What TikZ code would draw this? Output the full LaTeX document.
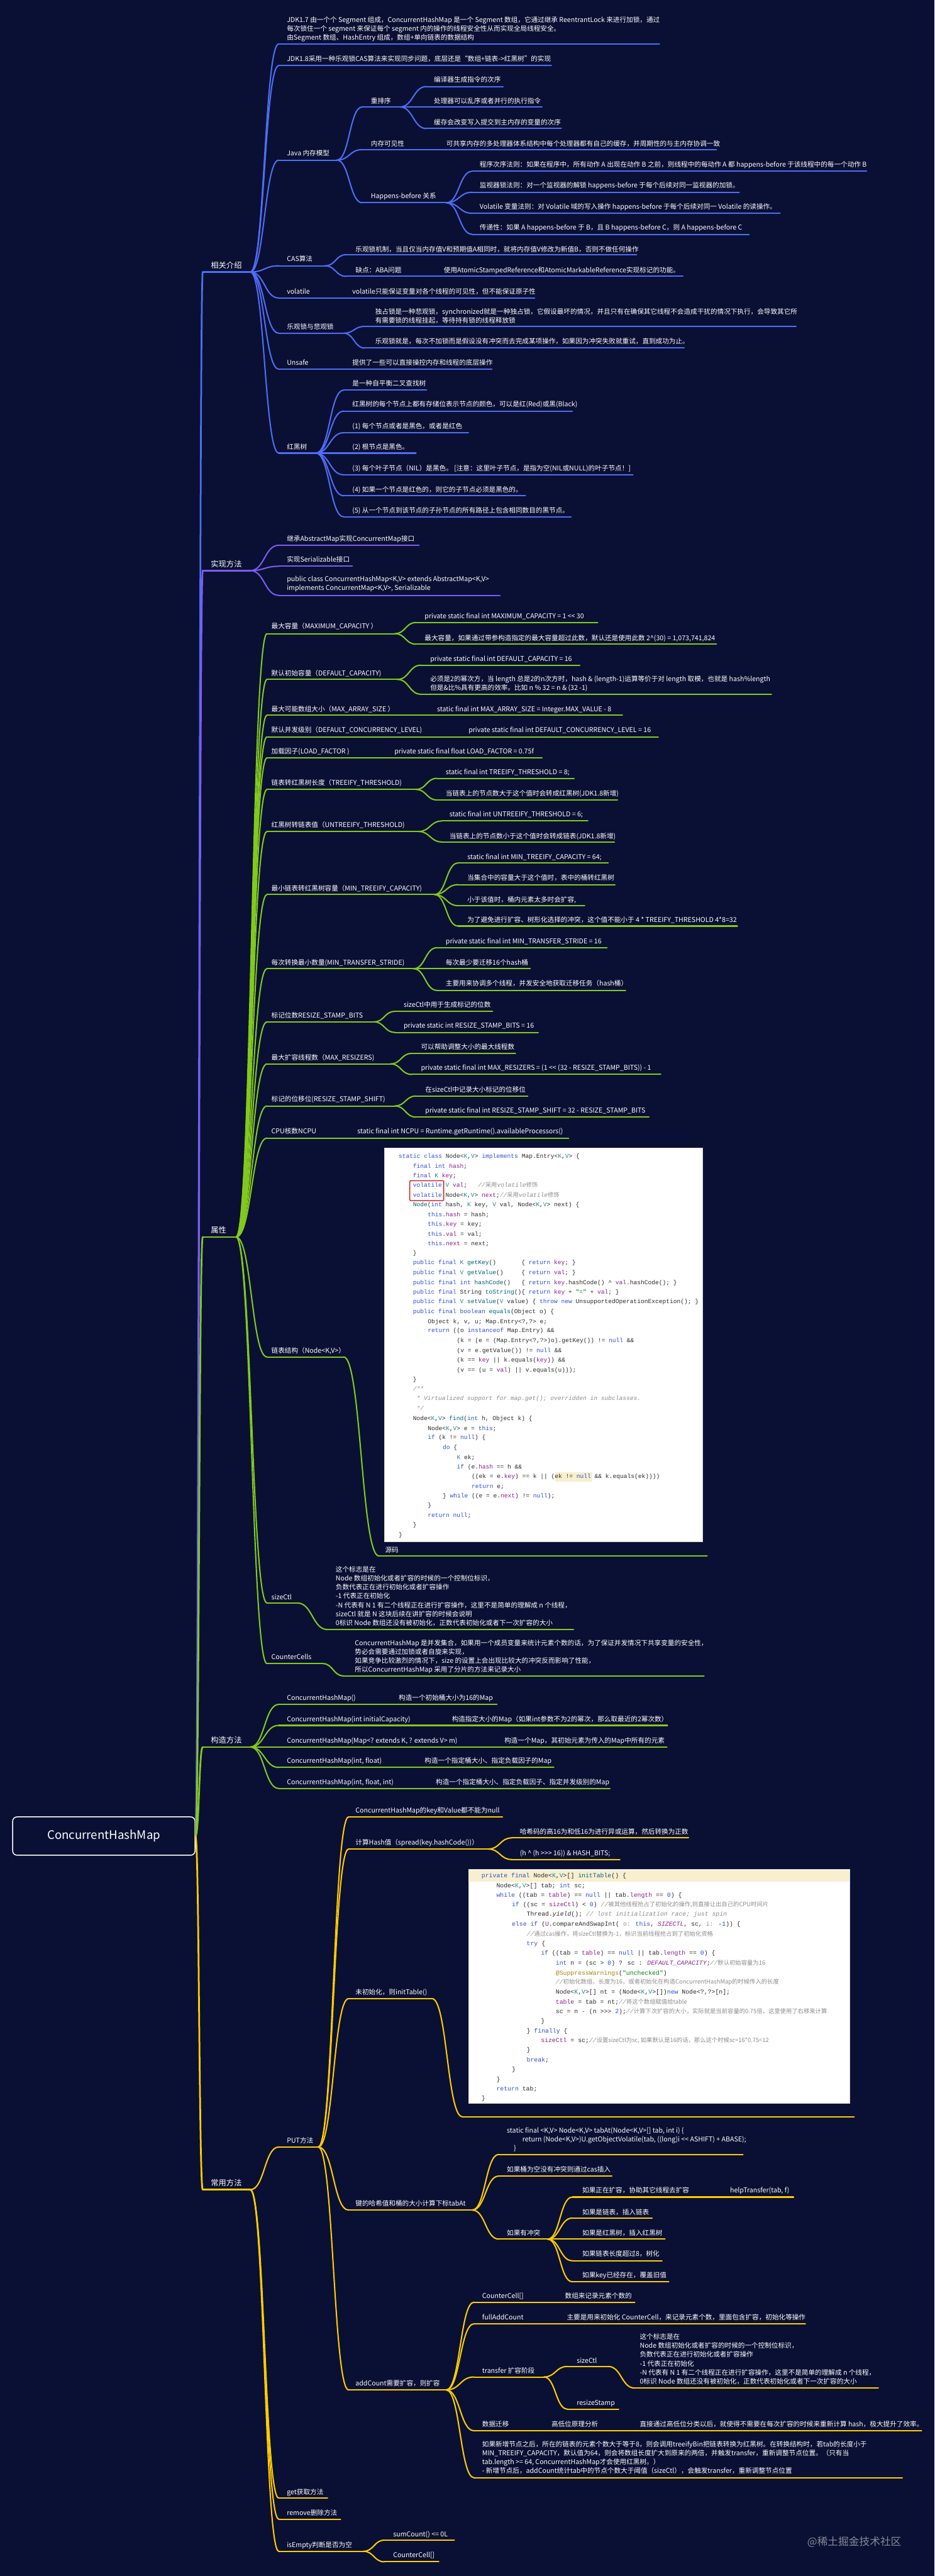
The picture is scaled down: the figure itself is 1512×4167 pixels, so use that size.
\documentclass[tikz,border=0pt]{standalone}
\usepackage{fontspec}
\newfontfamily\zhfont{Noto Sans CJK SC}
\newfontfamily\codefont{Liberation Mono}
\usetikzlibrary{calc}
\definecolor{bg}{HTML}{0A1033}
\definecolor{cb}{HTML}{4F6DF5}
\definecolor{cp}{HTML}{7C5CF2}
\definecolor{cg}{HTML}{82C91E}
\definecolor{cy}{HTML}{FFCC00}
\definecolor{ckw}{HTML}{2F4FD0}
\definecolor{cfd}{HTML}{8A1E8E}
\definecolor{cty}{HTML}{1A8C8C}
\definecolor{ccm}{HTML}{8C8C8C}
\definecolor{cfn}{HTML}{00627A}
\definecolor{cnum}{HTML}{1750EB}
\definecolor{cstr}{HTML}{067D17}
\definecolor{cann}{HTML}{9E880D}
\definecolor{cpl}{HTML}{2B2B2B}
\definecolor{hly}{HTML}{F7EFCF}
\definecolor{wmc}{HTML}{858A9A}
\newcommand\fsz{\zhfont\fontsize{10.8pt}{14.4pt}\selectfont}
\newcommand\fmz{\zhfont\fontsize{12.5pt}{15pt}\selectfont}
\newcommand\fcn{\codefont\fontsize{9.75pt}{12pt}\selectfont}
\newcommand\fci{\codefont\fontsize{10pt}{12pt}\selectfont}
\newcommand\zhf{\zhfont\fontsize{9.5pt}{12pt}\selectfont}
\newcommand\kwd[1]{\textcolor{ckw}{#1}}
\newcommand\fld[1]{\textcolor{cfd}{#1}}
\newcommand\typ[1]{\textcolor{cty}{#1}}
\newcommand\cmt[1]{\textcolor{ccm}{\itshape #1}}
\newcommand\zcm[1]{\textcolor{ccm}{\zhf #1}}
\newcommand\fnn[1]{\textcolor{cfn}{#1}}
\newcommand\nmb[1]{\textcolor{cnum}{#1}}
\newcommand\strg[1]{\textcolor{cstr}{#1}}
\newcommand\annt[1]{\textcolor{cann}{#1}}
\newcommand\hnt[1]{\textcolor{ccm}{#1}}
\tikzset{
  L/.style={draw=#1, line width=2.1pt, line cap=round},
  M/.style={draw=#1, line width=2.8pt, line cap=round},
  xmc/.style={to path={let \p1=(\tikztostart), \p2=(\tikztotarget) in
     .. controls ({0.5*\x1+0.5*\x2},\y1) and ({0.5*\x1+0.5*\x2},\y2) .. (\tikztotarget)}},
  tx/.style={anchor=west, inner sep=0pt, text=white, font=\fsz, text height=9.5pt, text depth=1.3pt},
  tm/.style={anchor=west, inner sep=0pt, text=white, font=\fsz, align=left},
  tb/.style={anchor=west, inner sep=0pt, text=white, font=\fmz, text height=11pt, text depth=1.5pt},
  cd/.style={anchor=west, inner sep=0pt, text=cpl, font=\fcn, text height=7pt, text depth=2pt},
  ci/.style={anchor=west, inner sep=0pt, text=cpl, font=\fci, text height=7pt, text depth=2pt},
  img/.style={draw=black!15, fill=white, anchor=north west, inner sep=0pt}
}
% topic: [node style]{name}{line style}{xs}{xe}{yline}{xtext}{ytext}{text}
\newcommand\tpc[9][tx]{\coordinate (#2-s) at (#4,#6);\coordinate (#2-e) at (#5,#6);\draw[#3] (#2-s) -- (#2-e);\node[#1] (#2) at (#7,#8) {#9};}
\newcommand\cnx[3]{\foreach \qq in {#3}{\draw[#1] (#2-e) to[xmc] (\qq-s);}}
\begin{document}
\begin{tikzpicture}[x=1pt,y=-1pt]
\fill[bg] (0,0) rectangle (1512,4167);
\path[use as bounding box] (0,0) rectangle (1512,4167);

% root
\node[draw=white, line width=1.5pt, rounded corners=7pt, fill=bg, minimum width=295pt, minimum height=62pt, inner sep=0pt, text=white, font=\zhfont\fontsize{19pt}{22pt}\selectfont] (root) at (168,2970) {ConcurrentHashMap};

% main branches
\tpc[tb]{m1}{M=cb}{328}{405}{440}{341}{429}{相关介绍}
\tpc[tb]{m2}{M=cp}{328}{405}{923}{341}{912}{实现方法}
\tpc[tb]{m3}{M=cg}{328}{382}{2001}{341}{1990}{属性}
\tpc[tb]{m4}{M=cg}{328}{405}{2826}{341}{2815}{构造方法}
\tpc[tb]{m5}{M=cy}{328}{405}{3542}{341}{3531}{常用方法}
\draw[M=cb] (root.east) to[xmc] (m1-s);
\draw[M=cp] (root.east) to[xmc] (m2-s);
\draw[M=cg] (root.east) to[xmc] (m3-s);
\draw[M=cg] (root.east) to[xmc] (m4-s);
\draw[M=cy] (root.east) to[xmc] (m5-s);

% ===== 相关介绍 =====
\tpc[tm]{a1}{L=cb}{451}{1067}{71}{464}{47}{JDK1.7 由一个个 Segment 组成，ConcurrentHashMap 是一个 Segment 数组，它通过继承 ReentrantLock 来进行加锁，通过\\每次锁住一个 segment 来保证每个 segment 内的操作的线程安全性从而实现全局线程安全。\\由Segment 数组、HashEntry 组成，数组+单向链表的数据结构}
\tpc{a2}{L=cb}{451}{892}{106}{464}{95}{JDK1.8采用一种乐观锁CAS算法来实现同步问题，底层还是“数组+链表->红黑树”的实现}
\tpc{a3}{L=cb}{451}{545}{259}{464}{248}{Java 内存模型}
\tpc{a31}{L=cb}{586}{647}{173}{600}{163}{重排序}
\tpc{a311}{L=cb}{690}{814}{140}{702}{129}{编译器生成指令的次序}
\tpc{a312}{L=cb}{690}{877}{173}{702}{163}{处理器可以乱序或者并行的执行指令}
\tpc{a313}{L=cb}{690}{908}{208}{702}{198}{缓存会改变写入提交到主内存的变量的次序}
\tpc{a32}{L=cb}{586}{1159}{242}{600}{232}{内存可见性}
\node[tx] (a32c) at (722,232) {可共享内存的多处理器体系结构中每个处理器都有自己的缓存，并周期性的与主内存协调一致};
\tpc{a33}{L=cb}{586}{722}{328}{600}{317}{Happens-before 关系}
\tpc{a331}{L=cb}{764}{1402}{277}{776}{266}{程序次序法则：如果在程序中，所有动作 A 出现在动作 B 之前，则线程中的每动作 A 都 happens-before 于该线程中的每一个动作 B}
\tpc{a332}{L=cb}{764}{1196}{311}{776}{300}{监视器锁法则：对一个监视器的解锁 happens-before 于每个后续对同一监视器的加锁。}
\tpc{a333}{L=cb}{764}{1262}{345}{776}{334}{Volatile 变量法则：对 Volatile 域的写入操作 happens-before 于每个后续对同一 Volatile 的读操作。}
\tpc{a334}{L=cb}{764}{1212}{379}{776}{368}{传递性：如果 A happens-before 于 B，且 B happens-before C，则 A happens-before C}
\tpc{a4}{L=cb}{451}{526}{430}{464}{419}{CAS算法}
\tpc{a41}{L=cb}{560}{1030}{412}{575}{403}{乐观锁机制，当且仅当内存值V和预期值A相同时，就将内存值V修改为新值B，否则不做任何操作}
\tpc{a42}{L=cb}{560}{1105}{447}{575}{437}{缺点：ABA问题}
\node[tx] (a42c) at (718,437) {使用AtomicStampedReference和AtomicMarkableReference实现标记的功能。};
\tpc{a5}{L=cb}{451}{865}{482}{464}{471}{volatile}
\node[tx] (a5c) at (570,471) {volatile只能保证变量对各个线程的可见性，但不能保证原子性};
\tpc{a6}{L=cb}{451}{556}{539}{464}{528}{乐观锁与悲观锁}
\tpc[tm]{a61}{L=cb}{590}{1288}{528}{607}{511}{独占锁是一种悲观锁，synchronized就是一种独占锁，它假设最坏的情况，并且只有在确保其它线程不会造成干扰的情况下执行，会导致其它所\\有需要锁的线程挂起，等待持有锁的线程释放锁}
\tpc{a62}{L=cb}{590}{1107}{563}{607}{552}{乐观锁就是，每次不加锁而是假设没有冲突而去完成某项操作，如果因为冲突失败就重试，直到成功为止。}
\tpc{a7}{L=cb}{451}{796}{597}{464}{586}{Unsafe}
\node[tx] (a7c) at (570,586) {提供了一些可以直接操控内存和线程的底层操作};
\tpc{a8}{L=cb}{451}{511}{733}{464}{723}{红黑树}
\tpc{a81}{L=cb}{556}{690}{631}{570}{620}{是一种自平衡二叉查找树}
\tpc{a82}{L=cb}{556}{926}{665}{570}{654}{红黑树的每个节点上都有存储位表示节点的颜色，可以是红(Red)或黑(Black)}
\tpc{a83}{L=cb}{556}{758}{700}{570}{689}{(1) 每个节点或者是黑色，或者是红色}
\tpc{a84}{L=cb}{556}{673}{733}{570}{723}{(2) 根节点是黑色。}
\tpc{a85}{L=cb}{556}{1024}{768}{570}{757}{(3) 每个叶子节点（NIL）是黑色。 [注意：这里叶子节点，是指为空(NIL或NULL)的叶子节点！]}
\tpc{a86}{L=cb}{556}{850}{802}{570}{792}{(4) 如果一个节点是红色的，则它的子节点必须是黑色的。}
\tpc{a87}{L=cb}{556}{924}{836}{570}{826}{(5) 从一个节点到该节点的子孙节点的所有路径上包含相同数目的黑节点。}
\cnx{L=cb}{m1}{a1,a2,a3,a4,a5,a6,a7,a8}
\cnx{L=cb}{a3}{a31,a32,a33}
\cnx{L=cb}{a31}{a311,a312,a313}
\cnx{L=cb}{a33}{a331,a332,a333,a334}
\cnx{L=cb}{a4}{a41,a42}
\cnx{L=cb}{a6}{a61,a62}
\cnx{L=cb}{a8}{a81,a82,a83,a84,a85,a86,a87}

% ===== 实现方法 =====
\tpc{b1}{L=cp}{451}{678}{882}{464}{871}{继承AbstractMap实现ConcurrentMap接口}
\tpc{b2}{L=cp}{451}{570}{916}{464}{905}{实现Serializable接口}
\tpc[tm]{b3}{L=cp}{451}{809}{963}{464}{945}{public class ConcurrentHashMap<K,V> extends AbstractMap<K,V>\\implements ConcurrentMap<K,V>, Serializable}
\cnx{L=cp}{m2}{b1,b2,b3}

% ===== 属性 =====
\tpc{c1}{L=cg}{432}{639}{1025}{439}{1013}{最大容量（MAXIMUM\_CAPACITY ）}
\tpc{c11}{L=cg}{673}{967}{1007}{687}{996}{private static final int MAXIMUM\_CAPACITY = 1 << 30}
\tpc{c12}{L=cg}{673}{1159}{1042}{687}{1032}{最大容量，如果通过带参构造指定的最大容量超过此数，默认还是使用此数 2\textasciicircum(30) = 1,073,741,824}
\tpc{c2}{L=cg}{432}{643}{1099}{439}{1089}{默认初始容量（DEFAULT\_CAPACITY)}
\tpc{c21}{L=cg}{681}{938}{1076}{696}{1066}{private static final int DEFAULT\_CAPACITY = 16}
\tpc[tm]{c22}{L=cg}{681}{1248}{1123}{696}{1106}{必须是2的幂次方，当 length 总是2的n次方时，hash \& (length-1)运算等价于对 length 取模，也就是 hash\%length\\但是\&比\%具有更高的效率。比如 n \% 32 = n \& (32 -1)}
\tpc{c3}{L=cg}{432}{1007}{1157}{439}{1147}{最大可能数组大小（MAX\_ARRAY\_SIZE ）}
\node[tx] (c3c) at (707,1147) {static final int MAX\_ARRAY\_SIZE = Integer.MAX\_VALUE - 8};
\tpc{c4}{L=cg}{432}{1065}{1192}{439}{1181}{默认并发级别（DEFAULT\_CONCURRENCY\_LEVEL)}
\node[tx] (c4c) at (758,1181) {private static final int DEFAULT\_CONCURRENCY\_LEVEL = 16};
\tpc{c5}{L=cg}{432}{877}{1226}{439}{1215}{加载因子(LOAD\_FACTOR )}
\node[tx] (c5c) at (638,1215) {private static final float LOAD\_FACTOR = 0.75f};
\tpc{c6}{L=cg}{432}{673}{1277}{439}{1266}{链表转红黑树长度（TREEIFY\_THRESHOLD)}
\tpc{c61}{L=cg}{707}{929}{1259}{721}{1249}{static final int TREEIFY\_THRESHOLD = 8;}
\tpc{c62}{L=cg}{707}{999}{1294}{721}{1283}{当链表上的节点数大于这个值时会转成红黑树(JDK1.8新增)}
\tpc{c7}{L=cg}{432}{677}{1345}{439}{1334}{红黑树转链表值（UNTREEIFY\_THRESHOLD)}
\tpc{c71}{L=cg}{715}{951}{1328}{727}{1317}{static final int UNTREEIFY\_THRESHOLD = 6;}
\tpc{c72}{L=cg}{715}{994}{1362}{727}{1352}{当链表上的节点数小于这个值时会转成链表(JDK1.8新增)}
\tpc{c8}{L=cg}{432}{703}{1447}{439}{1437}{最小链表转红黑树容量（MIN\_TREEIFY\_CAPACITY)}
\tpc{c81}{L=cg}{741}{984}{1396}{756}{1386}{static final int MIN\_TREEIFY\_CAPACITY = 64;}
\tpc{c82}{L=cg}{741}{995}{1431}{756}{1420}{当集合中的容量大于这个值时，表中的桶转红黑树}
\tpc{c83}{L=cg}{741}{946}{1465}{756}{1455}{小于该值时，桶内元素太多时会扩容,}
\tpc{c84}{L=cg}{741}{1193}{1498}{756}{1488}{为了避免进行扩容、树形化选择的冲突，这个值不能小于 4 * TREEIFY\_THRESHOLD 4*8=32}
\tpc{c9}{L=cg}{432}{669}{1567}{439}{1557}{每次转换最小数量(MIN\_TRANSFER\_STRIDE)}
\tpc{c91}{L=cg}{707}{982}{1533}{721}{1522}{private static final int MIN\_TRANSFER\_STRIDE = 16}
\tpc{c92}{L=cg}{707}{858}{1567}{721}{1557}{每次最少要迁移16个hash桶}
\tpc{c93}{L=cg}{707}{1012}{1602}{721}{1591}{主要用来协调多个线程，并发安全地获取迁移任务（hash桶）}
\tpc{c10}{L=cg}{432}{605}{1653}{439}{1642}{标记位数RESIZE\_STAMP\_BITS}
\tpc{c101}{L=cg}{639}{797}{1636}{653}{1625}{sizeCtl中用于生成标记的位数}
\tpc{c102}{L=cg}{639}{871}{1670}{653}{1659}{private static int RESIZE\_STAMP\_BITS = 16}
\tpc{c11x}{L=cg}{432}{632}{1721}{439}{1711}{最大扩容线程数（MAX\_RESIZERS)}
\tpc{c111}{L=cg}{666}{834}{1704}{681}{1693}{可以帮助调整大小的最大线程数}
\tpc{c112}{L=cg}{666}{1069}{1738}{681}{1727}{private static final int MAX\_RESIZERS = (1 << (32 - RESIZE\_STAMP\_BITS)) - 1}
\tpc{c12x}{L=cg}{432}{639}{1789}{439}{1778}{标记的位移位(RESIZE\_STAMP\_SHIFT)}
\tpc{c121}{L=cg}{673}{854}{1773}{688}{1762}{在sizeCtl中记录大小标记的位移位}
\tpc{c122}{L=cg}{673}{1050}{1807}{688}{1796}{private static final int RESIZE\_STAMP\_SHIFT = 32 - RESIZE\_STAMP\_BITS}
\tpc{c13}{L=cg}{432}{920}{1841}{439}{1830}{CPU核数NCPU}
\node[tx] (c13c) at (578,1830) {static final int NCPU = Runtime.getRuntime().availableProcessors()};
\tpc{c14}{L=cg}{432}{556}{2195}{439}{2185}{链表结构（Node<K,V>）}
\tpc{c141}{L=cg}{613}{1144}{2517}{623}{2507}{源码}
\tpc{c15}{L=cg}{432}{481}{2593}{439}{2583}{sizeCtl}
\tpc[tm]{c151}{L=cg}{530}{928}{2636}{543}{2582}{这个标志是在\\Node 数组初始化或者扩容的时候的一个控制位标识，\\负数代表正在进行初始化或者扩容操作\\-1 代表正在初始化\\-N 代表有 N 1 有二个线程正在进行扩容操作，这里不是简单的理解成 n 个线程，\\sizeCtl 就是 N 这块后续在讲扩容的时候会说明\\0标识 Node 数组还没有被初始化，正数代表初始化或者下一次扩容的大小}
\tpc{c16}{L=cg}{432}{522}{2691}{439}{2680}{CounterCells}
\tpc[tm]{c161}{L=cg}{556}{1139}{2711}{574}{2680}{ConcurrentHashMap 是并发集合，如果用一个成员变量来统计元素个数的话，为了保证并发情况下共享变量的安全性，\\势必会需要通过加锁或者自旋来实现，\\如果竞争比较激烈的情况下，size 的设置上会出现比较大的冲突反而影响了性能，\\所以ConcurrentHashMap 采用了分片的方法来记录大小}
\cnx{L=cg}{m3}{c1,c2,c3,c4,c5,c6,c7,c8,c9,c10,c11x,c12x,c13,c14,c15,c16}
\cnx{L=cg}{c1}{c11,c12}
\cnx{L=cg}{c2}{c21,c22}
\cnx{L=cg}{c6}{c61,c62}
\cnx{L=cg}{c7}{c71,c72}
\cnx{L=cg}{c8}{c81,c82,c83,c84}
\cnx{L=cg}{c9}{c91,c92,c93}
\cnx{L=cg}{c10}{c101,c102}
\cnx{L=cg}{c11x}{c111,c112}
\cnx{L=cg}{c12x}{c121,c122}
\cnx{L=cg}{c14}{c141}
\cnx{L=cg}{c15}{c151}
\cnx{L=cg}{c16}{c161}

% Node source image
\node[img, minimum width=514pt, minimum height=636pt] (img1) at (622,1857) {};
\begin{scope}
\clip (622,1857) rectangle (1136,2493);
\fill[hly] (898,2382) rectangle (958,2397);
\node[cd] (n01) at (645,1871) {\kwd{static class} Node<\typ{K},\typ{V}> \kwd{implements} Map.Entry<\typ{K},\typ{V}> \{};
\node[cd] (n02) at (668,1887) {\kwd{final int} \fld{hash};};
\node[cd] (n03) at (668,1902) {\kwd{final} \typ{K} \fld{key};};
\node[cd] (n04) at (668,1918) {\kwd{volatile} \typ{V} \fld{val};~~~\cmt{//}\zcm{采用}\cmt{volatile}\zcm{修饰}};
\node[cd] (n05) at (668,1934) {\kwd{volatile} Node<\typ{K},\typ{V}> \fld{next};\cmt{//}\zcm{采用}\cmt{volatile}\zcm{修饰}};
\node[cd] (n06) at (668,1949) {\fnn{Node}(\kwd{int} hash, \typ{K} key, \typ{V} val, Node<\typ{K},\typ{V}> next) \{};
\node[cd] (n07) at (692,1965) {\kwd{this}.\fld{hash} = hash;};
\node[cd] (n08) at (692,1981) {\kwd{this}.\fld{key} = key;};
\node[cd] (n09) at (692,1997) {\kwd{this}.\fld{val} = val;};
\node[cd] (n10) at (692,2012) {\kwd{this}.\fld{next} = next;};
\node[cd] (n11) at (668,2028) {\}};
\node[cd] (n12) at (668,2043) {\kwd{public final} \typ{K} \fnn{getKey}()~~~~~~~\{ \kwd{return} \fld{key}; \}};
\node[cd] (n13) at (668,2059) {\kwd{public final} \typ{V} \fnn{getValue}()~~~~~\{ \kwd{return} \fld{val}; \}};
\node[cd] (n14) at (668,2075) {\kwd{public final int} \fnn{hashCode}()~~~\{ \kwd{return} \fld{key}.hashCode() \textasciicircum{} \fld{val}.hashCode(); \}};
\node[cd] (n15) at (668,2091) {\kwd{public final} String \fnn{toString}()\{ \kwd{return} \fld{key} + \strg{"="} + \fld{val}; \}};
\node[cd] (n16) at (668,2106) {\kwd{public final} \typ{V} \fnn{setValue}(\typ{V} value) \{ \kwd{throw new} UnsupportedOperationException(); \}};
\node[cd] (n17) at (668,2122) {\kwd{public final boolean} \fnn{equals}(Object o) \{};
\node[cd] (n18) at (692,2138) {Object k, v, u; Map.Entry<?,?> e;};
\node[cd] (n19) at (692,2153) {\kwd{return} ((o \kwd{instanceof} Map.Entry) \&\&};
\node[cd] (n20) at (739,2169) {(k = (e = (Map.Entry<?,?>)o).getKey()) != \kwd{null} \&\&};
\node[cd] (n21) at (739,2185) {(v = e.getValue()) != \kwd{null} \&\&};
\node[cd] (n22) at (739,2201) {(k == \fld{key} || k.equals(\fld{key})) \&\&};
\node[cd] (n23) at (739,2217) {(v == (u = \fld{val}) || v.equals(u)));};
\node[cd] (n24) at (668,2232) {\}};
\node[cd] (n25) at (668,2247) {\cmt{/**}};
\node[cd] (n26) at (668,2263) {\cmt{~* Virtualized support for map.get(); overridden in subclasses.}};
\node[cd] (n27) at (668,2279) {\cmt{~*/}};
\node[cd] (n28) at (668,2295) {Node<\typ{K},\typ{V}> \fnn{find}(\kwd{int} h, Object k) \{};
\node[cd] (n29) at (692,2311) {Node<\typ{K},\typ{V}> e = \kwd{this};};
\node[cd] (n30) at (692,2326) {\kwd{if} (k != \kwd{null}) \{};
\node[cd] (n31) at (716,2342) {\kwd{do} \{};
\node[cd] (n32) at (739,2358) {\typ{K} ek;};
\node[cd] (n33) at (739,2373) {\kwd{if} (e.\fld{hash} == h \&\&};
\node[cd] (n34) at (763,2389) {((ek = e.\fld{key}) == k || (ek != \kwd{null} \&\& k.equals(ek))))};
\node[cd] (n35) at (763,2405) {\kwd{return} e;};
\node[cd] (n36) at (716,2420) {\} \kwd{while} ((e = e.\fld{next}) != \kwd{null});};
\node[cd] (n37) at (692,2436) {\}};
\node[cd] (n38) at (692,2452) {\kwd{return null};};
\node[cd] (n39) at (668,2467) {\}};
\node[cd] (n40) at (645,2483) {\}};
\end{scope}
\draw[red!85!black, line width=1.2pt, rounded corners=1pt] (663,1910) rectangle (718,1942);

% ===== 构造方法 =====
\tpc{d1}{L=cg}{451}{804}{2757}{464}{2746}{ConcurrentHashMap()}
\node[tx] (d1c) at (645,2746) {构造一个初始桶大小为16的Map};
\tpc{d2}{L=cg}{451}{1080}{2791}{464}{2781}{ConcurrentHashMap(int initialCapacity)}
\node[tx] (d2c) at (731,2781) {构造指定大小的Map（如果int参数不为2的幂次，那么取最近的2幂次数）};
\tpc{d3}{L=cg}{451}{1079}{2826}{464}{2815}{ConcurrentHashMap(Map<? extends K, ? extends V> m)}
\node[tx] (d3c) at (816,2815) {构造一个Map，其初始元素为传入的Map中所有的元素};
\tpc{d4}{L=cg}{451}{896}{2859}{464}{2848}{ConcurrentHashMap(int, float)}
\node[tx] (d4c) at (687,2848) {构造一个指定桶大小、指定负载因子的Map};
\tpc{d5}{L=cg}{451}{987}{2893}{464}{2883}{ConcurrentHashMap(int, float, int)}
\node[tx] (d5c) at (705,2883) {构造一个指定桶大小、指定负载因子、指定并发级别的Map};
\cnx{L=cg}{m4}{d1,d2,d3,d4,d5}

% ===== 常用方法 =====
\tpc{e1}{L=cy}{451}{515}{3473}{464}{3462}{PUT方法}
\tpc{e11}{L=cy}{564}{813}{2939}{575}{2928}{ConcurrentHashMap的key和Value都不能为null}
\tpc{e12}{L=cy}{564}{790}{2991}{575}{2980}{计算Hash值（spread(key.hashCode())）}
\tpc{e121}{L=cy}{828}{1114}{2973}{841}{2963}{哈希码的高16为和低16为进行异或运算，然后转换为正数}
\tpc{e122}{L=cy}{828}{1003}{3008}{841}{2997}{(h \textasciicircum{} (h >>> 16)) \& HASH\_BITS;}
\tpc{e13}{L=cy}{564}{699}{3233}{575}{3222}{未初始化，则initTable()}
\coordinate (e131-s) at (748,3424); \coordinate (e131-e) at (1382,3424);
\draw[L=cy] (e131-s) -- (e131-e);
\tpc{e14}{L=cy}{564}{764}{3575}{575}{3564}{键的哈希值和桶的大小计算下标tabAt}
\tpc[tm]{e141}{L=cy}{807}{1202}{3485}{820}{3461}{static final <K,V> Node<K,V> tabAt(Node<K,V>[] tab, int i) \{\\\hspace*{25pt}return (Node<K,V>)U.getObjectVolatile(tab, ((long)i << ASHIFT) + ABASE);\\\hspace*{11pt}\}}
\tpc{e142}{L=cy}{807}{990}{3520}{820}{3509}{如果桶为空没有冲突则通过cas插入}
\tpc{e143}{L=cy}{807}{886}{3622}{820}{3612}{如果有冲突}
\tpc{e1431}{L=cy}{926}{1284}{3554}{942}{3543}{如果正在扩容，协助其它线程去扩容}
\node[tx] (e1431c) at (1181,3543) {helpTransfer(tab, f)};
\tpc{e1432}{L=cy}{926}{1055}{3588}{942}{3578}{如果是链表，插入链表}
\tpc{e1433}{L=cy}{926}{1076}{3622}{942}{3612}{如果是红黑树，插入红黑树}
\tpc{e1434}{L=cy}{926}{1071}{3657}{942}{3646}{如果链表长度超过8，树化}
\tpc{e1435}{L=cy}{926}{1082}{3691}{942}{3680}{如果key已经存在，覆盖旧值}
\tpc{e15}{L=cy}{564}{722}{3866}{575}{3855}{addCount需要扩容，则扩容}
\tpc{e151}{L=cy}{767}{1027}{3724}{780}{3714}{CounterCell[]}
\node[tx] (e151c) at (914,3714) {数组来记录元素个数的};
\tpc{e152}{L=cy}{767}{1303}{3759}{780}{3748}{fullAddCount}
\node[tx] (e152c) at (917,3748) {主要是用来初始化 CounterCell，来记录元素个数，里面包含扩容，初始化等操作};
\tpc{e153}{L=cy}{767}{880}{3845}{780}{3835}{transfer 扩容阶段}
\tpc{e1531}{L=cy}{918}{984}{3828}{933}{3818}{sizeCtl}
\tpc[tm]{e15311}{L=cy}{1027}{1421}{3863}{1035}{3816}{这个标志是在\\Node 数组初始化或者扩容的时候的一个控制位标识，\\负数代表正在进行初始化或者扩容操作\\-1 代表正在初始化\\-N 代表有 N 1 有二个线程正在进行扩容操作，这里不是简单的理解成 n 个线程，\\0标识 Node 数组还没有被初始化，正数代表初始化或者下一次扩容的大小}
\tpc{e1532}{L=cy}{918}{1001}{3897}{933}{3887}{resizeStamp}
\tpc{e154}{L=cy}{767}{1491}{3932}{780}{3921}{数据迁移}
\node[tx] (e154b) at (892,3921) {高低位原理分析};
\node[tx] (e154c) at (1035,3921) {直接通过高低位分类以后，就使得不需要在每次扩容的时候来重新计算 hash，极大提升了效率。};
\tpc[tm]{e155}{L=cy}{767}{1460}{4008}{780}{3975}{如果新增节点之后，所在的链表的元素个数大于等于8，则会调用treeifyBin把链表转换为红黑树。在转换结构时，若tab的长度小于\\MIN\_TREEIFY\_CAPACITY，默认值为64，则会将数组长度扩大到原来的两倍，并触发transfer，重新调整节点位置。（只有当\\tab.length >= 64, ConcurrentHashMap才会使用红黑树。）\\- 新增节点后，addCount统计tab中的节点个数大于阈值（sizeCtl），会触发transfer，重新调整节点位置}
\tpc{e2}{L=cy}{451}{530}{4041}{464}{4031}{get获取方法}
\tpc{e3}{L=cy}{451}{551}{4075}{464}{4065}{remove删除方法}
\tpc{e4}{L=cy}{451}{588}{4127}{464}{4117}{isEmpty判断是否为空}
\tpc{e41}{L=cy}{622}{735}{4109}{636}{4099}{sumCount() <= 0L}
\tpc{e42}{L=cy}{622}{710}{4144}{636}{4133}{CounterCell[]}
\cnx{L=cy}{m5}{e1,e2,e3,e4}
\cnx{L=cy}{e1}{e11,e12,e13,e14,e15}
\cnx{L=cy}{e12}{e121,e122}
\cnx{L=cy}{e13}{e131}
\cnx{L=cy}{e14}{e141,e142,e143}
\cnx{L=cy}{e143}{e1431,e1432,e1433,e1434,e1435}
\cnx{L=cy}{e15}{e151,e152,e153,e154,e155}
\cnx{L=cy}{e153}{e1531,e1532}
\cnx{L=cy}{e1531}{e15311}
\cnx{L=cy}{e4}{e41,e42}

% initTable image
\node[img, minimum width=616pt, minimum height=379pt] (img2) at (758,3023) {};
\begin{scope}
\clip (758,3023) rectangle (1374,3402);
\fill[hly] (758,3026) rectangle (1374,3044);
\node[ci] (i01) at (779,3035) {\kwd{private final} Node<\typ{K},\typ{V}>[] \fnn{initTable}() \{};
\node[ci] (i02) at (803,3051) {Node<\typ{K},\typ{V}>[] tab; \kwd{int} sc;};
\node[ci] (i03) at (803,3066) {\kwd{while} ((tab = \fld{table}) == \kwd{null} || tab.\fld{length} == \nmb{0}) \{};
\node[ci] (i04) at (828,3082) {\kwd{if} ((sc = \fld{sizeCtl}) < \nmb{0}) \cmt{//}\zcm{被其他线程抢占了初始化的操作,则直接让出自己的CPU时间片}};
\node[ci] (i05) at (852,3097) {Thread.{\itshape yield}(); \cmt{// lost initialization race; just spin}};
\node[ci] (i06) at (828,3113) {\kwd{else if} (\fld{U}.compareAndSwapInt( \hnt{o:} \kwd{this}, \fld{\itshape SIZECTL}, sc, \hnt{i:} -\nmb{1})) \{};
\node[ci] (i07) at (852,3129) {\cmt{//}\zcm{通过cas操作，将sizeCtl替换为-1，标识当前线程抢占到了初始化资格}};
\node[ci] (i08) at (852,3145) {\kwd{try} \{};
\node[ci] (i09) at (875,3160) {\kwd{if} ((tab = \fld{table}) == \kwd{null} || tab.\fld{length} == \nmb{0}) \{};
\node[ci] (i10) at (899,3176) {\kwd{int} n = (sc > \nmb{0}) ? sc : \fld{\itshape DEFAULT\_CAPACITY};\cmt{//}\zcm{默认初始容量为16}};
\node[ci] (i11) at (899,3192) {\annt{@SuppressWarnings}(\strg{"unchecked"})};
\node[ci] (i12) at (899,3207) {\cmt{//}\zcm{初始化数组，长度为16，或者初始化在构造ConcurrentHashMap的时候传入的长度}};
\node[ci] (i13) at (899,3223) {Node<\typ{K},\typ{V}>[] nt = (Node<\typ{K},\typ{V}>[])\kwd{new} Node<?,?>[n];};
\node[ci] (i14) at (899,3239) {\fld{table} = tab = nt;\cmt{//}\zcm{将这个数组赋值给table}};
\node[ci] (i15) at (899,3254) {sc = n - (n >>> \nmb{2});\cmt{//}\zcm{计算下次扩容的大小，实际就是当前容量的0.75倍，这里使用了右移来计算}};
\node[ci] (i16) at (875,3270) {\}};
\node[ci] (i17) at (852,3286) {\} \kwd{finally} \{};
\node[ci] (i18) at (875,3301) {\fld{sizeCtl} = sc;\cmt{//}\zcm{设置sizeCtl为sc, 如果默认是16的话，那么这个时候sc=16*0.75=12}};
\node[ci] (i19) at (852,3317) {\}};
\node[ci] (i20) at (852,3333) {\kwd{break};};
\node[ci] (i21) at (828,3348) {\}};
\node[ci] (i22) at (803,3364) {\}};
\node[ci] (i23) at (803,3380) {\kwd{return} tab;};
\node[ci] (i24) at (779,3395) {\}};
\end{scope}

% watermark
\node[anchor=west, inner sep=0pt, text=wmc, font=\zhfont\fontsize{17pt}{20pt}\selectfont] (wm) at (1306,4112) {@稀土掘金技术社区};
\end{tikzpicture}
\end{document}
